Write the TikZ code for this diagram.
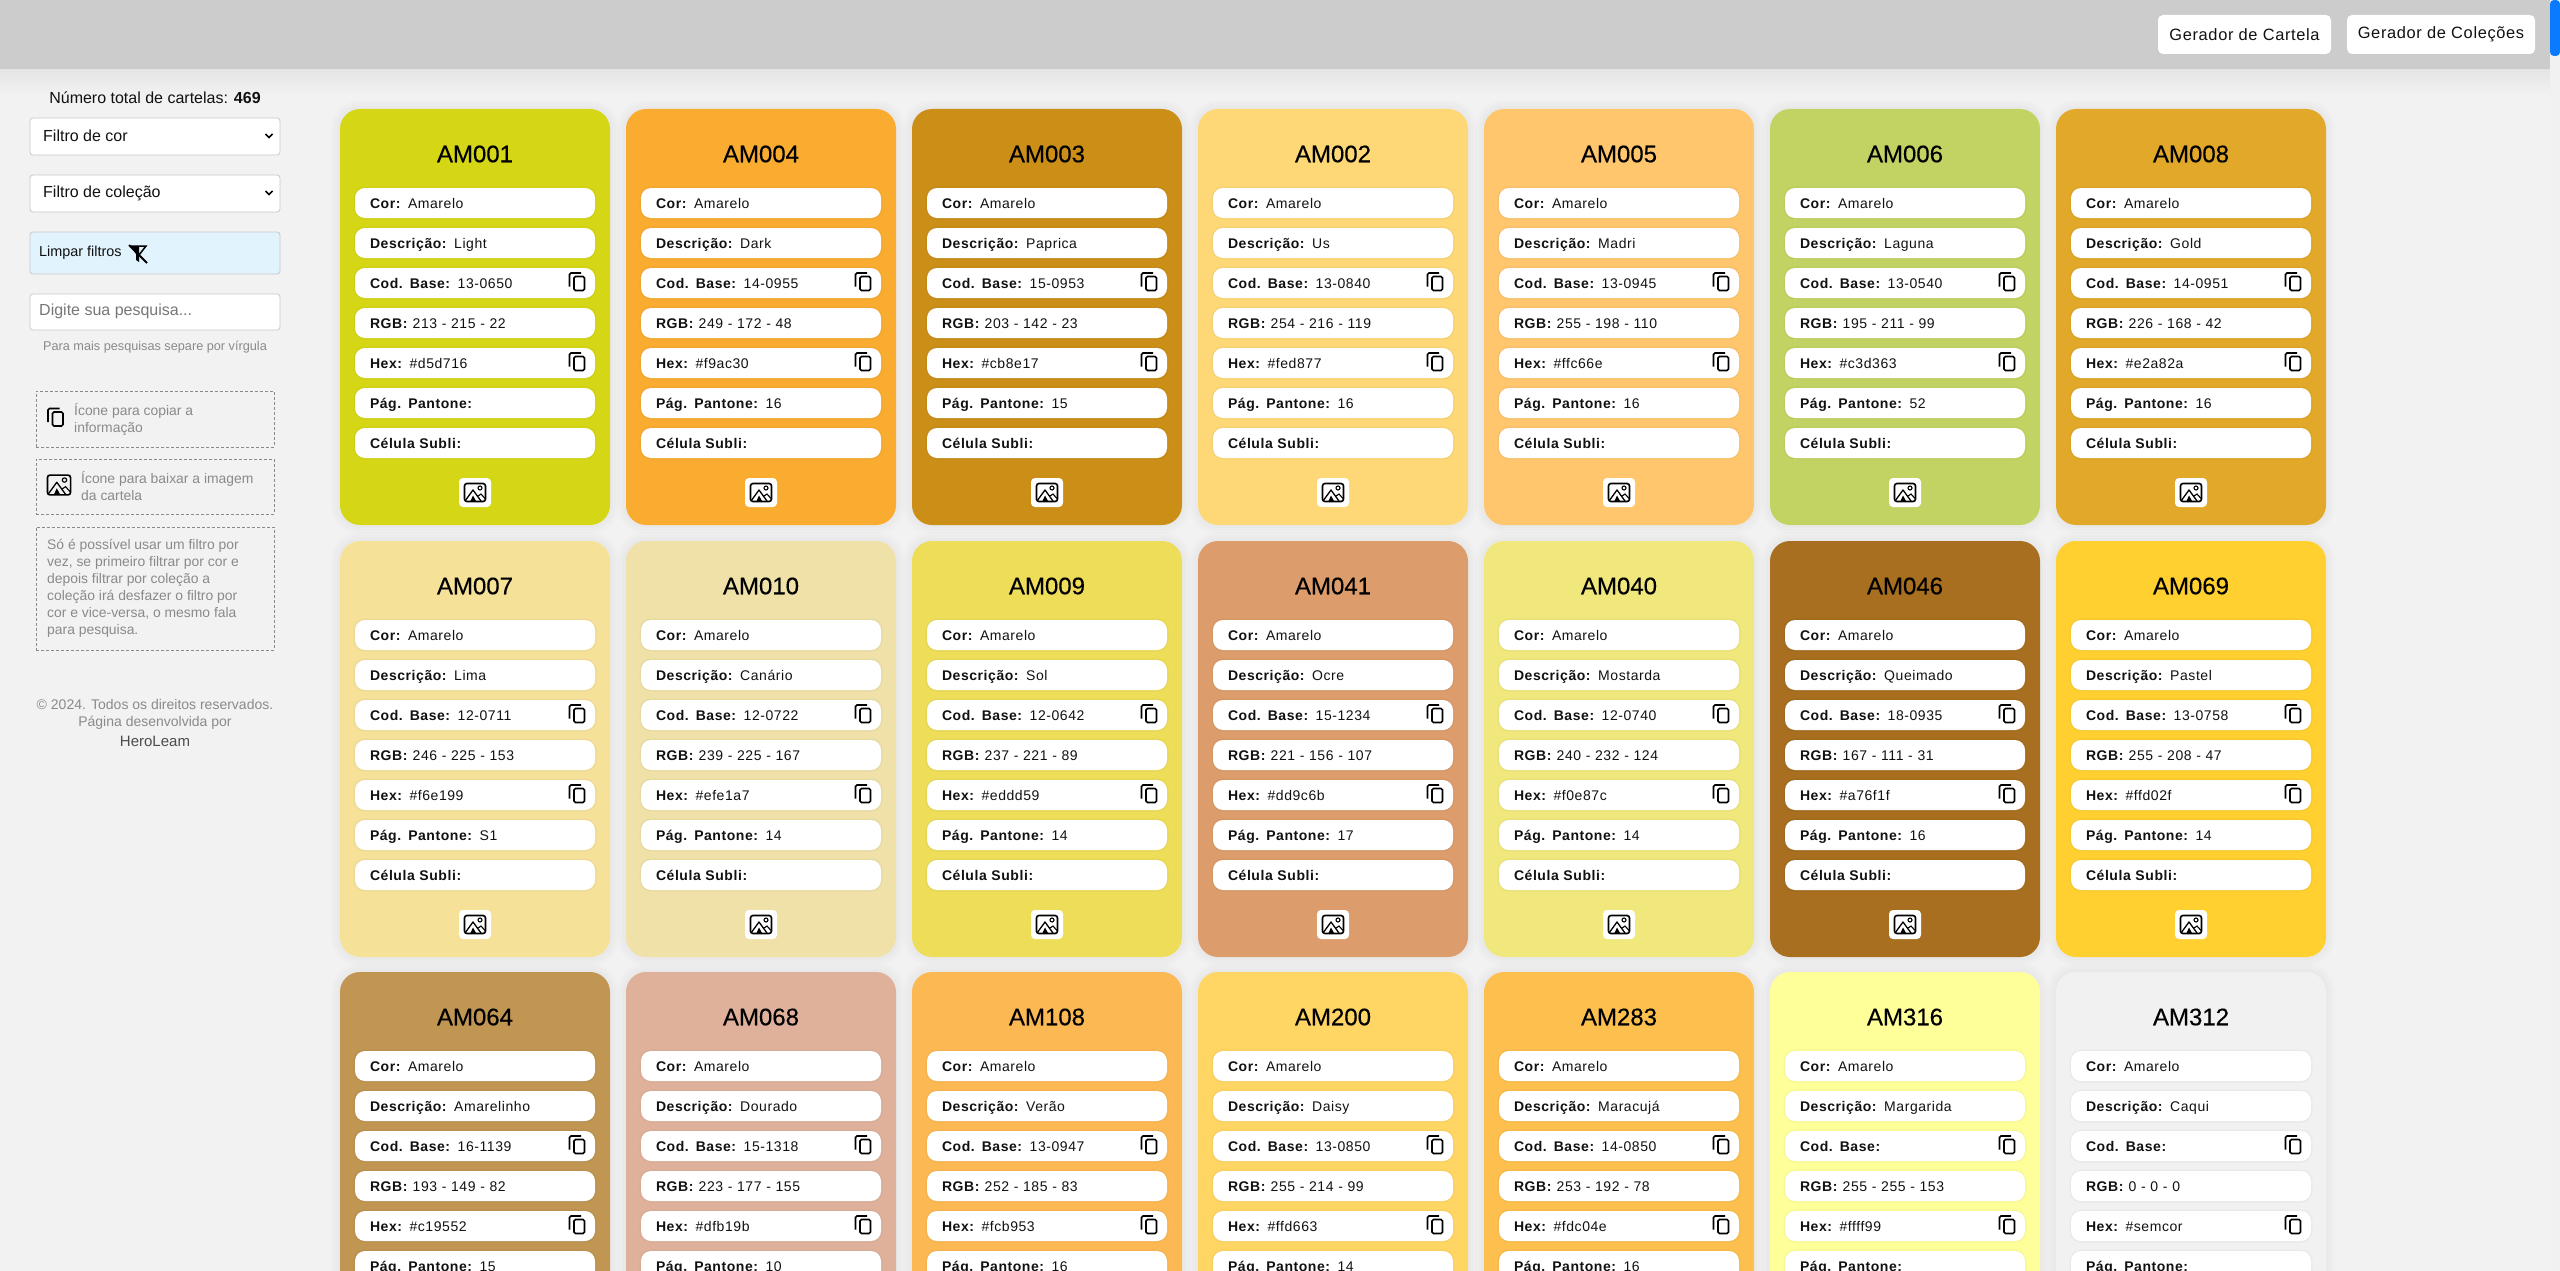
\documentclass[tikz,border=0pt]{standalone}
\usepackage{fontspec}
\usepackage{xcolor}
\usetikzlibrary{calc,positioning}
\setmainfont{Liberation Sans}
\newfontfamily\spacedfont[LetterSpace=4]{Liberation Sans}
\newfontfamily\titlefont[FakeBold=0.35]{Liberation Sans}
\definecolor{pageGray}{HTML}{F2F2F2}
\definecolor{barGray}{HTML}{CCCCCC}
\definecolor{barShade}{HTML}{E4E4E4}
\definecolor{trackGray}{HTML}{F1F1F1}
\definecolor{thumbBlue}{HTML}{0A7BFF}
\definecolor{lineGray}{HTML}{C8C8C8}
\definecolor{noteGray}{HTML}{8A8A8A}
\definecolor{hintGray}{HTML}{777777}
\definecolor{softBlue}{HTML}{E1F3FD}
\definecolor{inkDark}{HTML}{111111}
\tikzset{
  cardbox/.style={rounded corners=20pt,minimum width=270pt,minimum height=416pt,outer sep=0pt,inner sep=0pt,
    preaction={draw=black,draw opacity=.012,line width=18pt},
    preaction={draw=black,draw opacity=.012,line width=12pt},
    preaction={draw=black,draw opacity=.012,line width=6pt}},
  titlelabel/.style={font=\fontsize{24}{28}\titlefont,text=black,inner sep=0pt},
  rowbox/.style={fill=white,rounded corners=10pt,minimum height=30pt,outer sep=0pt,inner xsep=15pt,inner ysep=0pt,
    text width=210pt,align=left,text height=13pt,text depth=2.5pt,text=inkDark,font=\fontsize{14}{17}\spacedfont,
    preaction={draw=black,draw opacity=.03,line width=3pt}},
  iconbox/.style={fill=white,rounded corners=4pt,minimum width=32pt,minimum height=29pt,inner sep=0pt,outer sep=0pt},
  sidebox/.style={draw=lineGray,line width=.8pt,fill=white,rounded corners=3pt,minimum width=250pt,outer sep=0pt,inner sep=0pt},
  notebox/.style={draw=noteGray,line width=.9pt,dash pattern=on 3pt off 2pt,minimum width=238pt,outer sep=0pt,inner sep=0pt},
  notetext/.style={text=noteGray,inner sep=0pt,font=\fontsize{13.9}{17}\selectfont,align=left},
  topbutton/.style={fill=white,rounded corners=5pt,minimum height=39pt,text=inkDark,inner sep=0pt,outer sep=0pt,font=\fontsize{16.4}{19}\spacedfont},
  copyicon/.pic={
    \draw[black,line width=1.7pt,rounded corners=1.5pt] (-7.5,5) -- (-7.5,-8.5) -- (4,-8.5);
    \draw[black,line width=1.7pt,rounded corners=1.5pt] (-3,-5) rectangle (7.5,9);
  },
  imageicon/.pic={
    \draw[black,line width=1.6pt,rounded corners=2.5pt] (-10.5,-9) rectangle (10.5,9);
    \draw[black,line width=1.3pt,line join=round] (-10,8.5) -- (-2,-2.5) -- (6,8.5);
    \fill[black] (-2,3) -- (-4.5,8.5) -- (1,8.5) -- cycle;
    \draw[black,line width=1.1pt] (3,3.5) -- (6,1.5) -- (10,6);
    \draw[black,line width=1.1pt] (5,-4.5) circle (2pt);
  },
  chevron/.pic={
    \draw[black,line width=1.6pt] (-3.5,-2) -- (0,1.5) -- (3.5,-2);
  }
}
\begin{document}
\begin{tikzpicture}[x=1pt,y=-1pt]
\useasboundingbox (0,0) rectangle (2560,1271);
\begin{scope}
\clip (0,0) rectangle (2560,1271);
\fill[pageGray] (0,0) rectangle (2560,1271);
\shade[top color=barShade,bottom color=pageGray] (0,69) rectangle (2550,95);
\foreach \cx/\cy/\code/\desc/\base/\rgbv/\hexv/\pag/\fillc in {
340/109/AM001/Light/13-0650/213 - 215 - 22/d5d716//D5D716,
626/109/AM004/Dark/14-0955/249 - 172 - 48/f9ac30/16/F9AC30,
912/109/AM003/Paprica/15-0953/203 - 142 - 23/cb8e17/15/CB8E17,
1198/109/AM002/Us/13-0840/254 - 216 - 119/fed877/16/FED877,
1484/109/AM005/Madri/13-0945/255 - 198 - 110/ffc66e/16/FFC66E,
1770/109/AM006/Laguna/13-0540/195 - 211 - 99/c3d363/52/C3D363,
2056/109/AM008/Gold/14-0951/226 - 168 - 42/e2a82a/16/E2A82A,
340/541/AM007/Lima/12-0711/246 - 225 - 153/f6e199/S1/F6E199,
626/541/AM010/Canário/12-0722/239 - 225 - 167/efe1a7/14/EFE1A7,
912/541/AM009/Sol/12-0642/237 - 221 - 89/eddd59/14/EDDD59,
1198/541/AM041/Ocre/15-1234/221 - 156 - 107/dd9c6b/17/DD9C6B,
1484/541/AM040/Mostarda/12-0740/240 - 232 - 124/f0e87c/14/F0E87C,
1770/541/AM046/Queimado/18-0935/167 - 111 - 31/a76f1f/16/A76F1F,
2056/541/AM069/Pastel/13-0758/255 - 208 - 47/ffd02f/14/FFD02F,
340/972/AM064/Amarelinho/16-1139/193 - 149 - 82/c19552/15/C19552,
626/972/AM068/Dourado/15-1318/223 - 177 - 155/dfb19b/10/DFB19B,
912/972/AM108/Verão/13-0947/252 - 185 - 83/fcb953/16/FCB953,
1198/972/AM200/Daisy/13-0850/255 - 214 - 99/ffd663/14/FFD663,
1484/972/AM283/Maracujá/14-0850/253 - 192 - 78/fdc04e/16/FDC04E,
1770/972/AM316/Margarida//255 - 255 - 153/ffff99//FFFF99,
2056/972/AM312/Caqui//0 - 0 - 0/semcor//F1F1F1}{
  \definecolor{cardFill}{HTML}{\fillc}
  \node[cardbox,fill=cardFill] (\code) at (\cx+135,\cy+208) {};
  \node[titlelabel] (\code-t) at ([yshift=-45pt]\code.north) {\code};
  \node[rowbox] (\code-r1) at ([yshift=-94pt]\code.north) {\textbf{Cor:} Amarelo};
  \node[rowbox,below=10pt of \code-r1] (\code-r2) {\textbf{Descrição:} \desc};
  \node[rowbox,below=10pt of \code-r2] (\code-r3) {\textbf{Cod. Base:} \base};
  \node[rowbox,below=10pt of \code-r3] (\code-r4) {\textbf{RGB:} \rgbv};
  \node[rowbox,below=10pt of \code-r4] (\code-r5) {\textbf{Hex:} \#\hexv};
  \node[rowbox,below=10pt of \code-r5] (\code-r6) {\textbf{Pág. Pantone:} \pag};
  \pic at ([xshift=-18pt,yshift=1.5pt]\code-r3.east) {copyicon};
  \pic at ([xshift=-18pt,yshift=1.5pt]\code-r5.east) {copyicon};
  \ifnum\cy<900
    \node[rowbox,below=10pt of \code-r6] (\code-r7) {\textbf{Célula Subli:}};
    \node[iconbox,below=20pt of \code-r7] (\code-btn) {};
    \pic at (\code-btn) {imageicon};
  \fi
}
\fill[barGray] (0,0) rectangle (2550,69);
\fill[trackGray] (2550,0) rectangle (2560,1271);
\fill[thumbBlue,rounded corners=4pt] (2550,0) rectangle (2560,56);
\node[topbutton,minimum width=173pt] (btnCartela) at (2244.5,34.5) {Gerador de Cartela};
\node[topbutton,minimum width=188pt] (btnColecoes) at (2441,34.5) {Gerador de Coleções};
\node[inner sep=0pt,text=inkDark,font=\fontsize{16}{19}\selectfont] (totalLabel) at (155,98) {Número total de cartelas: \textbf{469}};
\node[sidebox,minimum height=37pt] (selCor) at (155,136.5) {};
\node[inner sep=0pt,anchor=west,text=inkDark,font=\fontsize{16}{19}\selectfont] (selCorText) at (43,136) {Filtro de cor};
\pic at (269,136) {chevron};
\node[sidebox,minimum height=37pt] (selColecao) at (155,193.5) {};
\node[inner sep=0pt,anchor=west,text=inkDark,font=\fontsize{16}{19}\selectfont] (selColecaoText) at (43,193.5) {Filtro de coleção};
\pic at (269,193) {chevron};
\node[sidebox,fill=softBlue,minimum height=42pt] (limpar) at (155,253) {};
\node[inner sep=0pt,anchor=west,text=inkDark,font=\fontsize{14.4}{17}\selectfont] (limparText) at (39,252.5) {Limpar filtros};
\fill[black] (130,246) -- (139,246) -- (139,262) -- (136,260) -- (136,254) -- cycle;
\draw[black,line width=1.5pt] (130,246) -- (146,246) -- (139,255);
\draw[black,line width=2pt] (129,245) -- (147,263);
\node[sidebox,minimum height=36pt] (busca) at (155,312) {};
\node[inner sep=0pt,anchor=west,text=hintGray,font=\fontsize{16}{19}\selectfont] (buscaText) at (39,311.5) {Digite sua pesquisa...};
\node[inner sep=0pt,text=noteGray,font=\fontsize{12.7}{15}\selectfont] (buscaHint) at (155,347.5) {Para mais pesquisas separe por vírgula};
\node[notebox,minimum height=56pt] (noteCopy) at (155,419) {};
\pic at (55.5,417) {copyicon};
\node[notetext,anchor=north west] (noteCopyText) at (74,403) {Ícone para copiar a\\informação};
\node[notebox,minimum height=55pt] (noteImage) at (155,486.5) {};
\pic[scale=1.1] at (59,485) {imageicon};
\node[notetext,anchor=north west] (noteImageText) at (81,471) {Ícone para baixar a imagem\\da cartela};
\node[notebox,minimum height=123pt] (noteFiltro) at (155,588.5) {};
\node[notetext,anchor=north west] (noteFiltroText) at (47,539) {Só é possível usar um filtro por\\vez, se primeiro filtrar por cor e\\depois filtrar por coleção a\\coleção irá desfazer o filtro por\\cor e vice-versa, o mesmo fala\\para pesquisa.};
\node[inner sep=0pt,text=noteGray,align=center,font=\fontsize{14}{17}\selectfont] (footerText) at (155,714) {© 2024. Todos os direitos reservados.\\Página desenvolvida por};
\node[inner sep=0pt,text=black!70,font=\fontsize{15}{18}\selectfont] (footerName) at (155,741) {HeroLeam};
\end{scope}
\end{tikzpicture}
\end{document}
